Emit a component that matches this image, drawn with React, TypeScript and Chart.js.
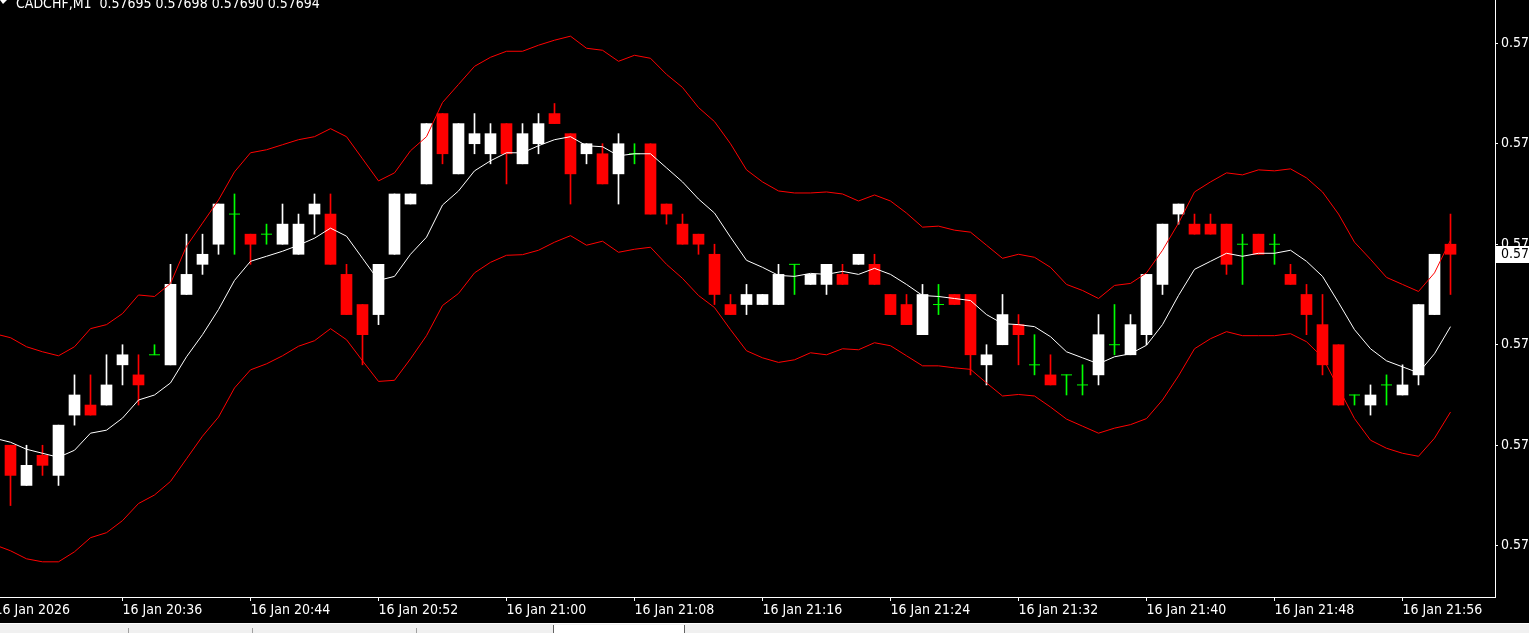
import React, { useEffect, useRef } from "react";
import { Chart, registerables } from "chart.js";

Chart.register(...registerables);

// ---------------- data ----------------
const symbolName = "CADCHF,M1";

// candles, index 0 = 16 Jan 20:29 ... index 90 = 16 Jan 21:59
const openPrices = [
  0.57675, 0.57671, 0.57674, 0.57672, 0.57678, 0.57679, 0.57679, 0.57683, 0.57682, 0.57684,
  0.57683, 0.5769, 0.57693, 0.57695, 0.57698, 0.57696, 0.57696, 0.57695, 0.57694, 0.57698,
  0.57698, 0.57692, 0.57689, 0.57688, 0.57694, 0.57699, 0.57701, 0.57708, 0.57702, 0.57705,
  0.57704, 0.57707, 0.57703, 0.57705, 0.57708, 0.57706, 0.57704, 0.57704, 0.57702, 0.57704,
  0.57705, 0.57699, 0.57697, 0.57696, 0.57694, 0.57689, 0.57689, 0.57689, 0.57689, 0.57693,
  0.57691, 0.57691, 0.57692, 0.57693, 0.57693, 0.5769, 0.57689, 0.57686, 0.57689, 0.5769,
  0.5769, 0.57683, 0.57685, 0.57687, 0.57683, 0.57682, 0.57682, 0.57681, 0.57682, 0.57685,
  0.57684, 0.57686, 0.57691, 0.57698, 0.57697, 0.57697, 0.57697, 0.57695, 0.57696, 0.57695,
  0.57692, 0.5769, 0.57687, 0.57685, 0.5768, 0.57679, 0.57681, 0.5768, 0.57682, 0.57688, 0.57695,
];
const highPrices = [
  0.57675, 0.57675, 0.57675, 0.57677, 0.57682, 0.57682, 0.57684, 0.57685, 0.57684, 0.57685,
  0.57693, 0.57696, 0.57696, 0.57699, 0.577, 0.57696, 0.57697, 0.57699, 0.57698, 0.577,
  0.577, 0.57693, 0.57689, 0.57693, 0.577, 0.577, 0.57707, 0.57708, 0.57707, 0.57708,
  0.57707, 0.57707, 0.57707, 0.57708, 0.57709, 0.57706, 0.57705, 0.57705, 0.57706, 0.57705,
  0.57705, 0.57699, 0.57698, 0.57696, 0.57695, 0.5769, 0.57691, 0.5769, 0.57693, 0.57693,
  0.57692, 0.57693, 0.57693, 0.57694, 0.57694, 0.5769, 0.5769, 0.57691, 0.57691, 0.5769,
  0.5769, 0.57685, 0.5769, 0.57688, 0.57686, 0.57684, 0.57682, 0.57683, 0.57688, 0.57689,
  0.57688, 0.57692, 0.57697, 0.57699, 0.57698, 0.57698, 0.57697, 0.57696, 0.57696, 0.57696,
  0.57693, 0.57691, 0.5769, 0.57685, 0.5768, 0.57681, 0.57682, 0.57683, 0.57689, 0.57694, 0.57698,
];
const lowPrices = [
  0.57669, 0.57671, 0.57672, 0.57671, 0.57677, 0.57678, 0.57679, 0.57681, 0.57679, 0.57684,
  0.57683, 0.5769, 0.57692, 0.57694, 0.57694, 0.57693, 0.57695, 0.57695, 0.57694, 0.57696,
  0.57693, 0.57688, 0.57683, 0.57687, 0.57694, 0.57699, 0.57701, 0.57703, 0.57702, 0.57704,
  0.57703, 0.57701, 0.57703, 0.57704, 0.57707, 0.57699, 0.57703, 0.57701, 0.57699, 0.57703,
  0.57698, 0.57697, 0.57695, 0.57694, 0.57689, 0.57688, 0.57688, 0.57689, 0.57689, 0.5769,
  0.57691, 0.5769, 0.57691, 0.57693, 0.57691, 0.57688, 0.57687, 0.57686, 0.57688, 0.57689,
  0.57682, 0.57681, 0.57685, 0.57683, 0.57682, 0.57681, 0.5768, 0.5768, 0.57681, 0.57684,
  0.57684, 0.57685, 0.5769, 0.57697, 0.57696, 0.57696, 0.57692, 0.57691, 0.57694, 0.57693,
  0.57691, 0.57686, 0.57682, 0.57679, 0.57679, 0.57678, 0.57679, 0.5768, 0.57681, 0.57688, 0.5769,
];
const closePrices = [
  0.57672, 0.57673, 0.57673, 0.57677, 0.5768, 0.57678, 0.57681, 0.57684, 0.57681, 0.57684,
  0.57691, 0.57692, 0.57694, 0.57699, 0.57698, 0.57695, 0.57696, 0.57697, 0.57697, 0.57699,
  0.57693, 0.57688, 0.57686, 0.57693, 0.577, 0.577, 0.57707, 0.57704, 0.57707, 0.57706,
  0.57706, 0.57704, 0.57706, 0.57707, 0.57707, 0.57702, 0.57705, 0.57701, 0.57705, 0.57704,
  0.57698, 0.57698, 0.57695, 0.57695, 0.5769, 0.57688, 0.5769, 0.5769, 0.57692, 0.57693,
  0.57692, 0.57693, 0.57691, 0.57694, 0.57691, 0.57688, 0.57687, 0.5769, 0.57689, 0.57689,
  0.57684, 0.57684, 0.57688, 0.57686, 0.57683, 0.57681, 0.57682, 0.57681, 0.57686, 0.57685,
  0.57687, 0.57692, 0.57697, 0.57699, 0.57696, 0.57696, 0.57693, 0.57695, 0.57694, 0.57695,
  0.57691, 0.57688, 0.57683, 0.57679, 0.5768, 0.5768, 0.57681, 0.57681, 0.57689, 0.57694, 0.57694,
];

// Bollinger bands, first value belongs to candle index -1 (just off the left edge)
const bandFirstIndex = -1;
const upperBand = [
  0.576861,
  0.576857, 0.576848, 0.576843, 0.576839, 0.576848, 0.576866, 0.57687, 0.576881, 0.5768995, 0.576898,
  0.576911, 0.576948, 0.576971, 0.576994, 0.577022, 0.577041, 0.577044, 0.577049, 0.577054, 0.577057,
  0.577065, 0.577057, 0.577035, 0.577013, 0.577021, 0.577043, 0.577057, 0.577091, 0.577109, 0.577127,
  0.577136, 0.577142, 0.577142, 0.577148, 0.577153, 0.577157, 0.577145, 0.577143, 0.577132, 0.577138,
  0.577135, 0.577119, 0.577106, 0.577086, 0.577072, 0.57705, 0.577024, 0.577012, 0.577003, 0.577001,
  0.577001, 0.577002, 0.577, 0.576993, 0.576999, 0.576993, 0.576981, 0.576967, 0.576968, 0.576964,
  0.576962, 0.576949, 0.576936, 0.57694, 0.576937, 0.576927, 0.57691, 0.576904, 0.576896, 0.576909,
  0.576911, 0.5769215, 0.576944, 0.576971, 0.577002, 0.577012, 0.577021, 0.577019, 0.577024, 0.577023,
  0.577025, 0.577016, 0.577002, 0.57698, 0.576952, 0.576935, 0.576917, 0.57691, 0.576903, 0.5769215, 0.576954,
];
const middleBand = [
  0.576757,
  0.576753, 0.576746, 0.576742, 0.576738, 0.576745, 0.576762, 0.576765, 0.576777, 0.576795, 0.5768,
  0.576812, 0.576838, 0.57686, 0.576885, 0.576914, 0.576933, 0.576938, 0.576943, 0.576949, 0.576956,
  0.576966, 0.576958, 0.576936, 0.576914, 0.576918, 0.57694, 0.576957, 0.576989, 0.577003, 0.577023,
  0.577033, 0.577041, 0.577041, 0.577048, 0.577054, 0.577057, 0.577048, 0.577047, 0.577038, 0.57704,
  0.57704, 0.577026, 0.577012, 0.576995, 0.576981, 0.576957, 0.576934, 0.576927, 0.576919, 0.576918,
  0.576921, 0.57692, 0.576923, 0.57692, 0.576926, 0.57692, 0.57691, 0.576899, 0.576898, 0.576896,
  0.576894, 0.57688, 0.576871, 0.57687, 0.576868, 0.576858, 0.576843, 0.576837, 0.576831, 0.576838,
  0.576841, 0.5768495, 0.57687, 0.576899, 0.576925, 0.576933, 0.576941, 0.576938, 0.576941, 0.576941,
  0.576944, 0.576933, 0.576918, 0.576892, 0.576865, 0.576846, 0.576834, 0.576828, 0.576822, 0.576841, 0.576868,
];
const lowerBand = [
  0.576651,
  0.576645, 0.576637, 0.576634, 0.576634, 0.576644, 0.576658, 0.576663, 0.576675, 0.576692, 0.5767005,
  0.576714, 0.5767365, 0.576759, 0.576778, 0.576807, 0.576825, 0.576831, 0.576839, 0.5768485, 0.576854,
  0.576866, 0.576855, 0.576834, 0.5768135, 0.5768146, 0.576836, 0.576859, 0.576889, 0.576901, 0.5769215,
  0.576932, 0.576939, 0.5769396, 0.576944, 0.576952, 0.5769585, 0.576949, 0.576953, 0.576942, 0.576945,
  0.576947, 0.57693, 0.576916, 0.576899, 0.576887, 0.576865, 0.576844, 0.576837, 0.5768324, 0.576835,
  0.576842, 0.57684, 0.576846, 0.576845, 0.576852, 0.576849, 0.576839, 0.576829, 0.576829, 0.576827,
  0.5768255, 0.576812, 0.576799, 0.5768005, 0.576799, 0.576788, 0.576776, 0.576769, 0.576762, 0.576767,
  0.5767705, 0.5767765, 0.576795, 0.576819, 0.576846, 0.576856, 0.576863, 0.576859, 0.576859, 0.576859,
  0.576861, 0.576853, 0.5768375, 0.576807, 0.5767765, 0.576755, 0.576747, 0.576742, 0.576739, 0.576757, 0.576783,
];

// axis ticks
const priceTicks = [0.57665, 0.57675, 0.57685, 0.57695, 0.57705, 0.57715];
const timeTickIndex = [-1, 7, 15, 23, 31, 39, 47, 55, 63, 71, 79, 87];
const timeTickLabels = [
  "16 Jan 2026", "16 Jan 20:36", "16 Jan 20:44", "16 Jan 20:52", "16 Jan 21:00", "16 Jan 21:08",
  "16 Jan 21:16", "16 Jan 21:24", "16 Jan 21:32", "16 Jan 21:40", "16 Jan 21:48", "16 Jan 21:56",
];

// ---------------- view settings ----------------
const WIDTH = 1529;
const HEIGHT = 633;
const CANVAS_H = 623;
const X_MIN = -0.65625;
const X_MAX = 92.78125;
const Y_MIN = 0.576599;
const Y_MAX = 0.577193;
const FONT = '"DejaVu Sans Condensed", "DejaVu Sans", sans-serif';
const BULL = "#ffffff";
const BEAR = "#ff0000";
const DOJI = "#00ff00";

export default function App() {
  const canvasRef = useRef<HTMLCanvasElement | null>(null);

  useEffect(() => {
    const canvas = canvasRef.current;
    if (!canvas) return;
    const idx = openPrices.map((_, i) => i);
    const isDoji = (i: number) => openPrices[i] === closePrices[i];
    const colorOf = (i: number) =>
      closePrices[i] > openPrices[i] ? BULL : closePrices[i] < openPrices[i] ? BEAR : DOJI;
    const bodyIdx = idx.filter((i) => !isDoji(i));
    const dojiIdx = idx.filter((i) => isDoji(i));
    const band = (arr: number[]) => arr.map((v, k) => ({ x: k + bandFirstIndex, y: v }));
    const last = closePrices.length - 1;
    const header = `${symbolName}  ${openPrices[last].toFixed(5)} ${highPrices[last].toFixed(5)} ${lowPrices[last].toFixed(5)} ${closePrices[last].toFixed(5)}`;

    const overlay = {
      id: "mt4overlay",
      afterDraw(chart: any) {
        const { ctx, chartArea, scales } = chart;
        const yPix = scales.y.getPixelForValue(closePrices[last]);
        ctx.save();
        ctx.fillStyle = "#ffffff";
        ctx.fillRect(chartArea.right + 1, Math.round(yPix - 8.5), chart.width - chartArea.right - 1, 17);
        ctx.fillStyle = "#000000";
        ctx.font = `14px ${FONT}`;
        ctx.textAlign = "left";
        ctx.textBaseline = "middle";
        ctx.fillText(closePrices[last].toFixed(5), chartArea.right + 6, yPix + 0.5);
        ctx.fillStyle = "#ffffff";
        ctx.textBaseline = "alphabetic";
        ctx.fillText(header, 16, 8);
        ctx.beginPath();
        ctx.moveTo(0, 0);
        ctx.lineTo(7, 0);
        ctx.lineTo(3, 4);
        ctx.closePath();
        ctx.fill();
        ctx.restore();
      },
    };

    const chart = new Chart(canvas, {
      type: "bar",
      data: {
        datasets: [
          {
            type: "line",
            label: "Upper band",
            data: band(upperBand),
            borderColor: BEAR,
            borderWidth: 1,
            pointRadius: 0,
            tension: 0,
            order: 0,
          },
          {
            type: "line",
            label: "Middle band",
            data: band(middleBand),
            borderColor: "#ffffff",
            borderWidth: 1,
            pointRadius: 0,
            tension: 0,
            order: 0,
          },
          {
            type: "line",
            label: "Lower band",
            data: band(lowerBand),
            borderColor: BEAR,
            borderWidth: 1,
            pointRadius: 0,
            tension: 0,
            order: 0,
          },
          {
            type: "bar",
            label: "Bodies",
            data: bodyIdx.map((i) => ({ x: i, y: [openPrices[i], closePrices[i]] })) as any,
            backgroundColor: bodyIdx.map(colorOf),
            borderWidth: 0,
            barThickness: 11,
            grouped: false,
            order: 1,
          },
          {
            type: "scatter",
            label: "Doji",
            data: dojiIdx.map((i) => ({ x: i, y: openPrices[i] })),
            pointStyle: "line",
            pointRadius: 5.5,
            pointHoverRadius: 5.5,
            borderColor: DOJI,
            backgroundColor: DOJI,
            borderWidth: 1,
            order: 1,
          },
          {
            type: "bar",
            label: "Wicks",
            data: idx.map((i) => ({ x: i, y: [lowPrices[i], highPrices[i]] })) as any,
            backgroundColor: idx.map(colorOf),
            borderWidth: 0,
            barThickness: 1,
            grouped: false,
            order: 2,
          },
        ] as any,
      },
      options: {
        animation: false,
        responsive: false,
        maintainAspectRatio: false,
        devicePixelRatio: 1,
        layout: { padding: 0, autoPadding: false },
        plugins: {
          legend: { display: false },
          tooltip: { enabled: false },
          title: { display: false },
        },
        events: [],
        scales: {
          x: {
            type: "linear",
            min: X_MIN,
            max: X_MAX,
            offset: false,
            position: "bottom",
            grid: {
              display: true,
              drawOnChartArea: false,
              drawTicks: true,
              tickLength: 4,
              color: "#ffffff",
              offset: false,
            },
            border: { display: true, color: "#ffffff", width: 1 },
            ticks: {
              autoSkip: false,
              maxRotation: 0,
              minRotation: 0,
              align: "start",
              padding: 1,
              color: "#ffffff",
              font: { family: FONT, size: 14 },
              callback: (_v: any, i: number) => timeTickLabels[i],
            },
            afterBuildTicks: (s: any) => {
              s.ticks = timeTickIndex.map((v) => ({ value: v }));
            },
            afterFit: (s: any) => {
              s.height = CANVAS_H - 597;
              s.paddingLeft = 0;
              s.paddingRight = 0;
            },
          },
          y: {
            type: "linear",
            position: "right",
            min: Y_MIN,
            max: Y_MAX,
            grid: {
              display: true,
              drawOnChartArea: false,
              drawTicks: true,
              tickLength: 3,
              color: "#ffffff",
            },
            border: { display: true, color: "#ffffff", width: 1 },
            ticks: {
              padding: 3,
              color: "#ffffff",
              font: { family: FONT, size: 14 },
              callback: (v: any) => Number(v).toFixed(5),
            },
            afterBuildTicks: (s: any) => {
              s.ticks = priceTicks.map((v) => ({ value: v }));
            },
            afterFit: (s: any) => {
              s.width = 34;
              s.paddingTop = 0;
              s.paddingBottom = 0;
            },
          },
        },
      } as any,
      plugins: [overlay],
    });

    return () => {
      chart.destroy();
    };
  }, []);

  const sep = (x: number) => (
    <div
      key={x}
      style={{ position: "absolute", left: x, top: 4, width: 1, height: 6, background: "#a0a0a0" }}
    />
  );

  return (
    <div
      style={{
        position: "fixed",
        left: 0,
        top: 0,
        width: WIDTH,
        height: HEIGHT,
        background: "#000000",
        overflow: "hidden",
      }}
    >
      <canvas
        ref={canvasRef}
        width={WIDTH}
        height={CANVAS_H}
        style={{ display: "block", width: WIDTH, height: CANVAS_H }}
      />
      <div
        style={{
          position: "absolute",
          left: 0,
          top: CANVAS_H,
          width: WIDTH,
          height: HEIGHT - CANVAS_H,
          background: "#f0f0f0",
          borderTop: "1px solid #ffffff",
          boxSizing: "border-box",
        }}
      >
        {[128, 252, 416].map(sep)}
        <div
          style={{
            position: "absolute",
            left: 553,
            top: 1,
            width: 130,
            height: 9,
            background: "#ffffff",
            borderLeft: "1px solid #646464",
            borderRight: "1px solid #646464",
          }}
        />
      </div>
    </div>
  );
}
